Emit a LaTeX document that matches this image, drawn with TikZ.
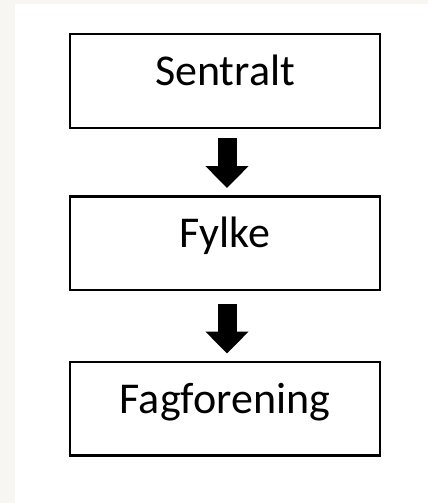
\documentclass[tikz,border=0pt]{standalone}
\usepackage{fontspec}
\setmainfont{Carlito}
\usetikzlibrary{arrows.meta}
\definecolor{kant}{HTML}{F7F6F2}

\begin{document}
\begin{tikzpicture}[x=1pt,y=-1pt,
	boks/.style={draw, line width=2.5pt, inner sep=0pt, minimum width=310pt,
		text height=51.5pt, text depth=42pt, font=\fontsize{44}{50}\selectfont},
	pil/.style={line width=19pt, -{Triangle[width=42pt,length=22pt]}}]
	\fill [kant] (0,0) rectangle (428,503);
	\fill [white] (15,4) rectangle (428,503);
	\node [boks] (sentralt) at (225,81) {Sentralt};
	\node [boks] (fylke) at (225,243) {Fylke};
	\node [boks] (fagforening) at (225,408.5) {Fagforening};
	\draw [pil] ([xshift=2pt,yshift=-9pt]sentralt.south) -- ([xshift=2pt,yshift=7pt]fylke.north);
	\draw [pil] ([xshift=2pt,yshift=-13pt]fylke.south) -- ([xshift=2pt,yshift=7pt]fagforening.north);
\end{tikzpicture}
\end{document}
